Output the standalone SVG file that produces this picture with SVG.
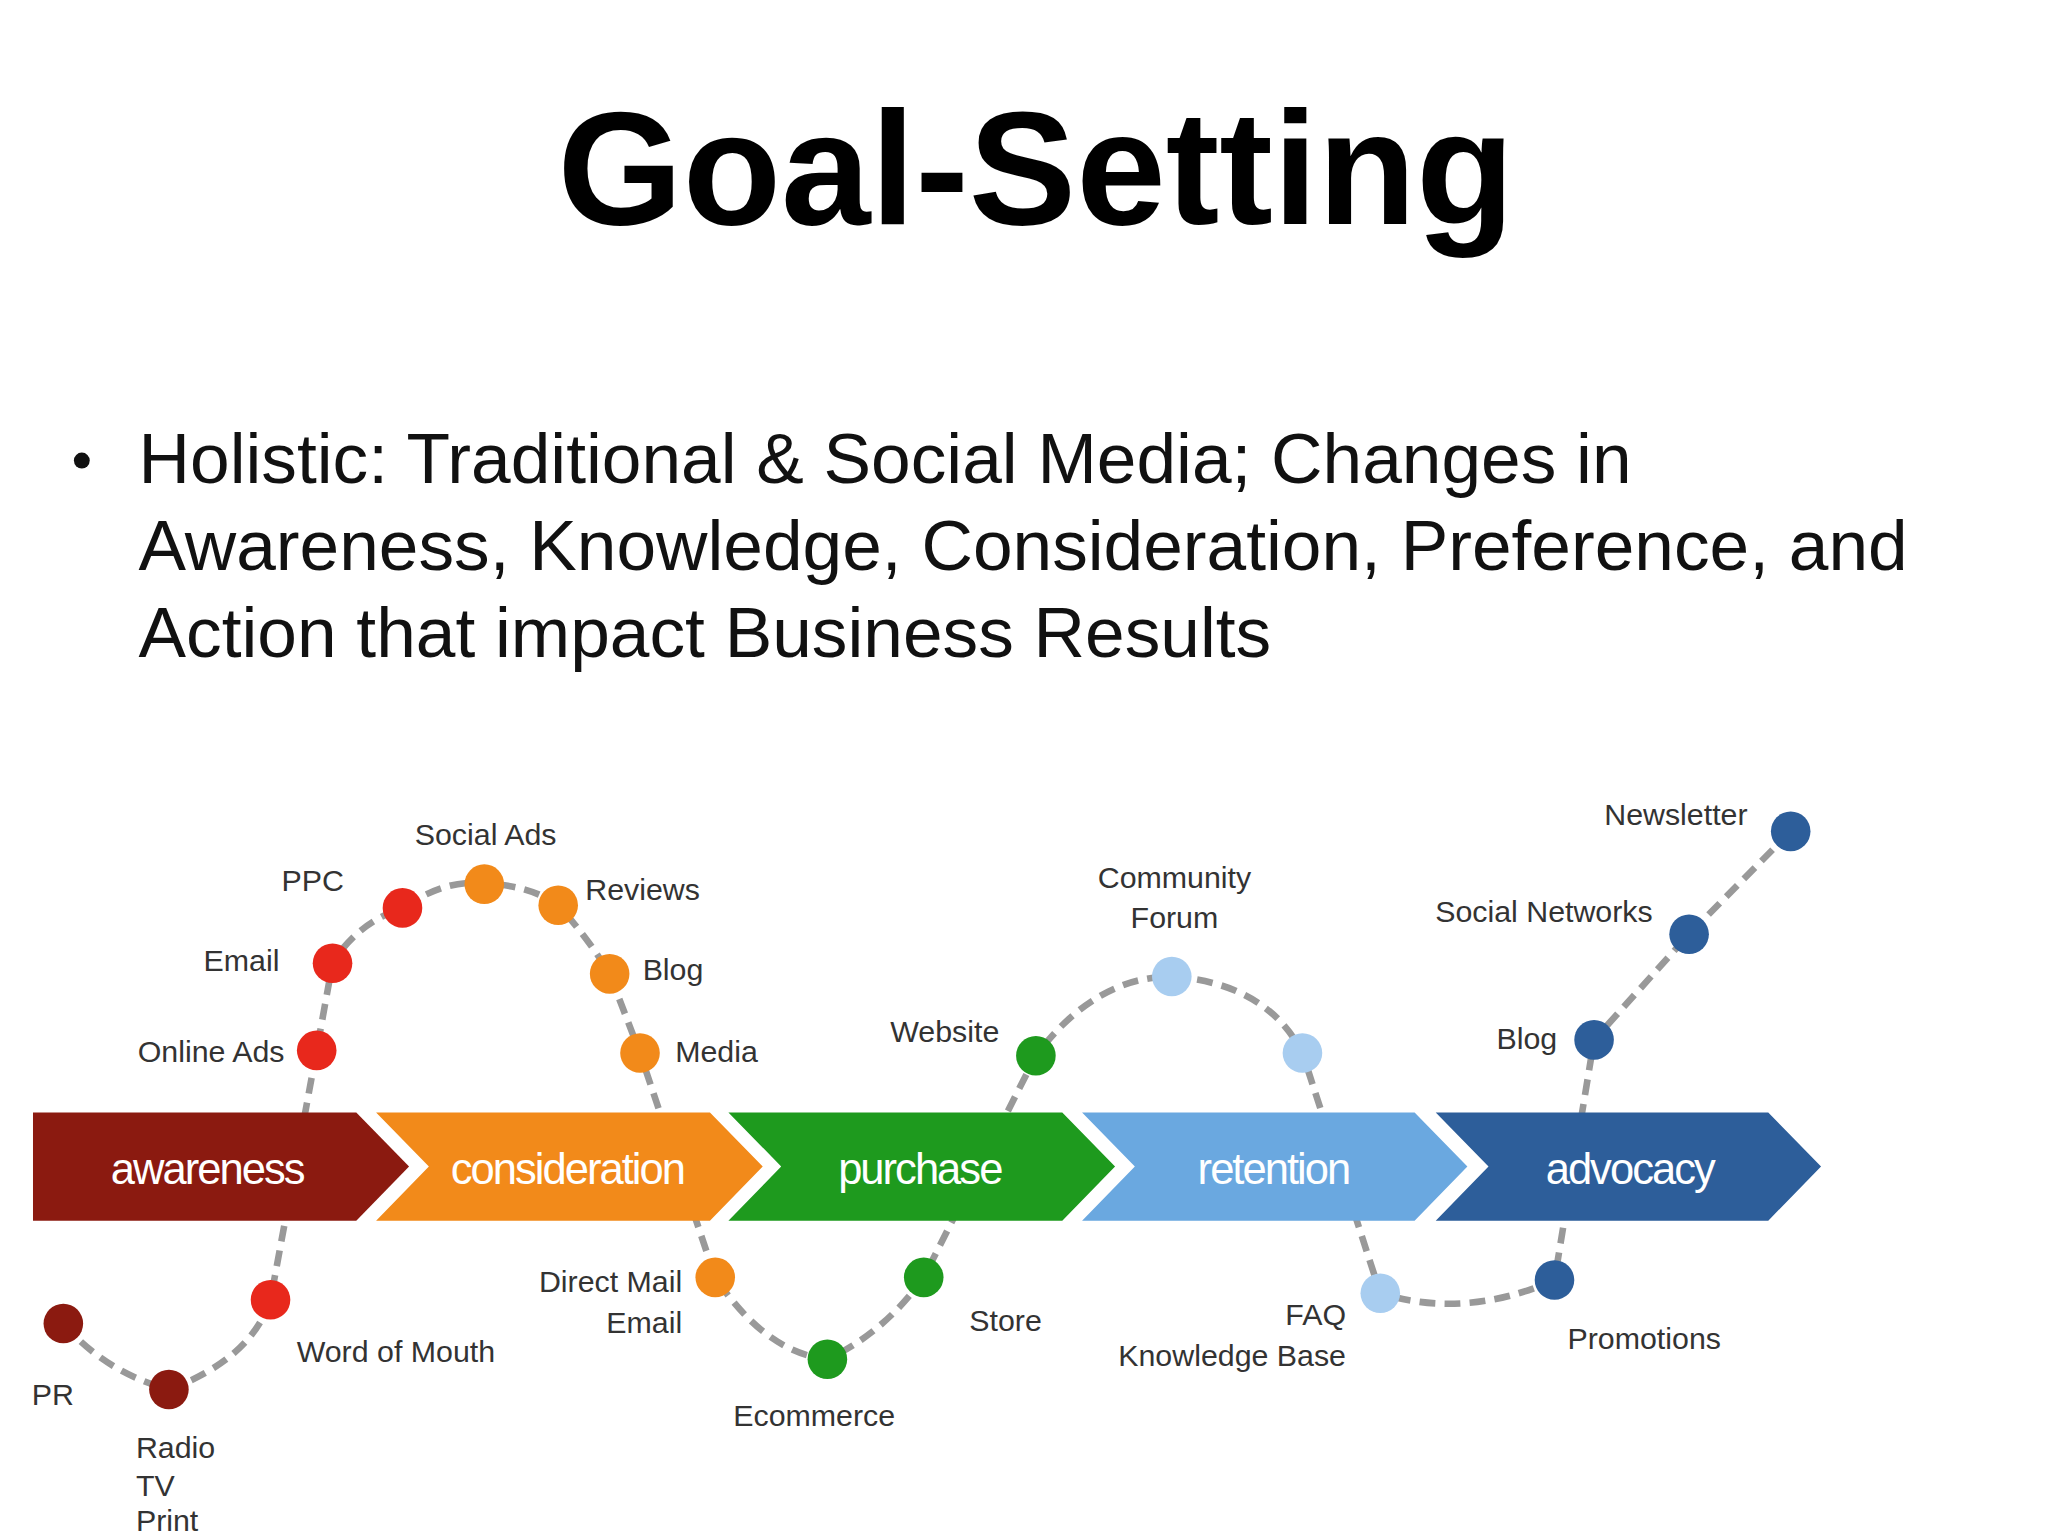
<svg xmlns="http://www.w3.org/2000/svg" width="2048" height="1536" viewBox="0 0 2048 1536">
<style>
.t{font-family:"Liberation Sans",Arial,sans-serif}
.lb{font-family:"Liberation Sans",Arial,sans-serif;font-size:23px;fill:#333}
.m{text-anchor:middle}
.e{text-anchor:end}
.s{text-anchor:start}
.ch{font-family:"Liberation Sans",Arial,sans-serif;font-size:33px;fill:#fff;text-anchor:middle;letter-spacing:-1.5px}
</style>
<rect width="2048" height="1536" fill="#fff"/>
<g transform="scale(1.3196)">
<text class="t" x="785" y="170" font-size="122" font-weight="bold" text-anchor="middle">Goal-Setting</text>
<g class="t" font-size="54" fill="#111">
<circle cx="62" cy="349" r="6" fill="#111"/>
<text x="105" y="366">Holistic: Traditional &amp; Social Media; Changes in</text>
<text x="105" y="432">Awareness, Knowledge, Consideration, Preference, and</text>
<text x="105" y="498">Action that impact Business Results</text>
</g>
<g id="connectors" fill="none" stroke="#999" stroke-width="5" stroke-dasharray="12,7">
<path d="M48,1003 Q80,1040 128,1053 Q190,1030 205,985 L240,796 L252,730 Q270,700 305,688 Q340,665 367,670 Q400,670 423,686 Q445,710 462,738 L485,798 L542,968 Q580,1025 627,1030 Q670,1010 700,968 L785,800 Q830,740 888,740 Q960,745 987,798 L1046,980 Q1110,1000 1178,970 L1208,788 L1280,708 L1357,630"/>
</g>
<g id="chevrons">
<path d="M25,843 H270 L310,884 L270,925 H25 Z" fill="#8B1A10"/>
<path d="M285,843 H538 L578,884 L538,925 H285 L325,884 Z" fill="#F28A1A"/>
<path d="M552,843 H805 L845,884 L805,925 H552 L592,884 Z" fill="#1E9A1E"/>
<path d="M820,843 H1072 L1112,884 L1072,925 H820 L860,884 Z" fill="#6AA8E0"/>
<path d="M1088,843 H1340 L1380,884 L1340,925 H1088 L1128,884 Z" fill="#2D5E9A"/>
<text class="ch" x="157" y="897">awareness</text>
<text class="ch" x="430" y="897">consideration</text>
<text class="ch" x="697" y="897">purchase</text>
<text class="ch" x="965" y="897">retention</text>
<text class="ch" x="1235" y="897">advocacy</text>
</g>
<g id="dots">
<circle cx="48" cy="1003" r="15" fill="#8B1A10"/>
<circle cx="128" cy="1053" r="15" fill="#8B1A10"/>
<circle cx="205" cy="985" r="15" fill="#E8281C"/>
<circle cx="240" cy="796" r="15" fill="#E8281C"/>
<circle cx="252" cy="730" r="15" fill="#E8281C"/>
<circle cx="305" cy="688" r="15" fill="#E8281C"/>
<circle cx="367" cy="670" r="15" fill="#F28A1A"/>
<circle cx="423" cy="686" r="15" fill="#F28A1A"/>
<circle cx="462" cy="738" r="15" fill="#F28A1A"/>
<circle cx="485" cy="798" r="15" fill="#F28A1A"/>
<circle cx="542" cy="968" r="15" fill="#F28A1A"/>
<circle cx="627" cy="1030" r="15" fill="#1E9A1E"/>
<circle cx="700" cy="968" r="15" fill="#1E9A1E"/>
<circle cx="785" cy="800" r="15" fill="#1E9A1E"/>
<circle cx="888" cy="740" r="15" fill="#A8CDF0"/>
<circle cx="987" cy="798" r="15" fill="#A8CDF0"/>
<circle cx="1046" cy="980" r="15" fill="#A8CDF0"/>
<circle cx="1178" cy="970" r="15" fill="#2D5E9A"/>
<circle cx="1208" cy="788" r="15" fill="#2D5E9A"/>
<circle cx="1280" cy="708" r="15" fill="#2D5E9A"/>
<circle cx="1357" cy="630" r="15" fill="#2D5E9A"/>
</g>
<g id="labels">
<text class="lb m" x="368" y="640">Social Ads</text>
<text class="lb m" x="237" y="675">PPC</text>
<text class="lb m" x="183" y="736">Email</text>
<text class="lb m" x="160" y="805">Online Ads</text>
<text class="lb m" x="487" y="682">Reviews</text>
<text class="lb m" x="510" y="743">Blog</text>
<text class="lb m" x="543" y="805">Media</text>
<text class="lb m" x="716" y="790">Website</text>
<text class="lb m" x="890" y="673">Community</text>
<text class="lb m" x="890" y="703">Forum</text>
<text class="lb m" x="1270" y="625">Newsletter</text>
<text class="lb m" x="1170" y="699">Social Networks</text>
<text class="lb m" x="1157" y="795">Blog</text>
<text class="lb m" x="40" y="1065">PR</text>
<text class="lb s" x="103" y="1105">Radio</text>
<text class="lb s" x="103" y="1134">TV</text>
<text class="lb s" x="103" y="1160">Print</text>
<text class="lb m" x="300" y="1032">Word of Mouth</text>
<text class="lb e" x="517" y="979">Direct Mail</text>
<text class="lb e" x="517" y="1010">Email</text>
<text class="lb m" x="617" y="1081">Ecommerce</text>
<text class="lb m" x="762" y="1009">Store</text>
<text class="lb e" x="1020" y="1004">FAQ</text>
<text class="lb e" x="1020" y="1035">Knowledge Base</text>
<text class="lb m" x="1246" y="1022">Promotions</text>
</g>
</g>
</svg>
